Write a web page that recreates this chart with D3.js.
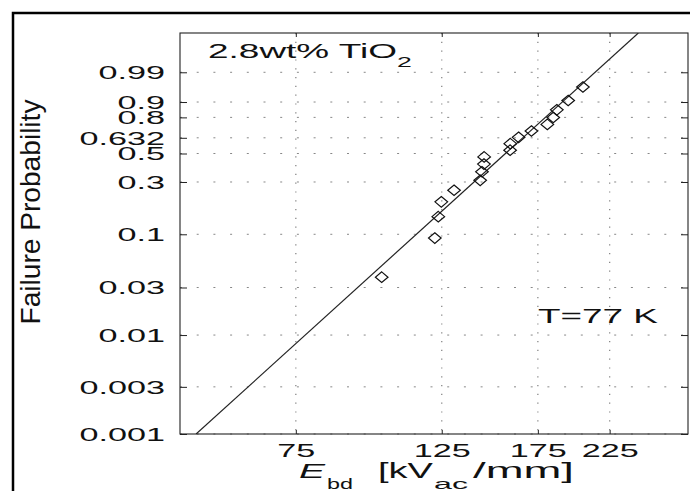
<!DOCTYPE html>
<html><head><meta charset="utf-8">
<script src="https://cdn.jsdelivr.net/npm/d3@7"></script>
<style>body{margin:0;background:#fff} svg{display:block} text{font-family:"Liberation Sans",Arial,Helvetica,sans-serif;fill:#111}</style>
</head><body><svg id="c" width="690" height="491"></svg>
<script>
// ---- data ----
const xTickValues = [75, 125, 175, 225];
const xTickLabels = ["75", "125", "175", "225"];
const yTickValues = [0.001, 0.003, 0.01, 0.03, 0.1, 0.3, 0.5, 0.632, 0.8, 0.9, 0.99];
const yTickLabels = ["0.001", "0.003", "0.01", "0.03", "0.1", "0.3", "0.5", "0.632", "0.8", "0.9", "0.99"];
const breakdownField = [101.3, 122.0, 123.5, 124.8, 130.5, 143.0, 143.9, 144.9, 145.0, 158.8, 158.9, 163.6, 171.1, 180.9, 184.7, 187.0, 194.6, 204.9];
const failureProb = [0.038, 0.092, 0.147, 0.201, 0.255, 0.310, 0.364, 0.418, 0.473, 0.527, 0.582, 0.636, 0.690, 0.745, 0.799, 0.853, 0.908, 0.962];
const fitScale = 166;   // Weibull scale (kV/mm)
const fitShape = 6.04;  // Weibull shape
const xDomain = [50, 296];
const yDomain = [0.001, 0.99999];

// ---- layout ----
const L = 180, R = 688, T = 33, B = 434, SX = 1.9;
const weib = F => Math.log(-Math.log(1 - F));
const x = d3.scaleLog().domain(xDomain).range([L, R]);
const yW = d3.scaleLinear().domain(yDomain.map(weib)).range([B, T]);
const y = F => yW(weib(F));

const svg = d3.select('#c');
svg.append('rect').attr('width', 690).attr('height', 491).attr('fill', '#fff');
svg.append('path').attr('d', 'M13,491 V13 H690').attr('fill', 'none').attr('stroke', '#000').attr('stroke-width', 2.5);

// grid
const grid = svg.append('g').attr('stroke', '#888').attr('fill', 'none');
grid.selectAll('line.h').data(yTickValues).join('line').attr('class', 'h')
  .attr('x1', L).attr('x2', R).attr('y1', d => y(d)).attr('y2', d => y(d))
  .attr('stroke-width', 1).attr('stroke-dasharray', '2,14.7');
grid.selectAll('line.v').data(xTickValues).join('line').attr('class', 'v')
  .attr('y1', T).attr('y2', B).attr('x1', d => x(d)).attr('x2', d => x(d))
  .attr('stroke-width', 1.3).attr('stroke-dasharray', '1.2,7.6');

// axes (ticks inward)
const styleAxis = g => { g.select('.domain').remove(); g.selectAll('.tick line').attr('stroke', '#222').attr('stroke-width', 1); g.attr('font-family', null).attr('font-size', null); };
const gl = svg.append('g').attr('transform', `translate(${L},0)`)
  .call(d3.axisLeft(yW).tickValues(yTickValues.map(weib)).tickFormat((d, i) => yTickLabels[i]).tickSizeInner(-7).tickSizeOuter(0).tickPadding(15))
  .call(styleAxis);
gl.selectAll('.tick text').attr('x', -15 / SX).attr('dy', '0.36em').attr('transform', `scale(${SX},1)`).attr('font-size', 18).attr('fill', '#111');
svg.append('g').attr('transform', `translate(${R},0)`)
  .call(d3.axisRight(yW).tickValues(yTickValues.map(weib)).tickFormat('').tickSizeInner(-7).tickSizeOuter(0)).call(styleAxis);
const gb = svg.append('g').attr('transform', `translate(0,${B})`)
  .call(d3.axisBottom(x).tickValues(xTickValues).tickFormat((d, i) => xTickLabels[i]).tickSizeInner(-4).tickSizeOuter(0))
  .call(styleAxis);
gb.selectAll('.tick text').attr('y', 23).attr('dy', null).attr('transform', `scale(${SX},1)`).attr('font-size', 18).attr('fill', '#111');
svg.append('g').attr('transform', `translate(0,${T})`)
  .call(d3.axisTop(x).tickValues(xTickValues).tickFormat('').tickSizeInner(-4).tickSizeOuter(0)).call(styleAxis);

// box
svg.append('rect').attr('x', L).attr('y', T).attr('width', R - L).attr('height', B - T)
  .attr('fill', 'none').attr('stroke', '#222').attr('stroke-width', 1.1);

// fit line
svg.append('clipPath').attr('id', 'clip').append('rect').attr('x', L).attr('y', T).attr('width', R - L).attr('height', B - T);
const wEnds = yDomain.map(weib);
const fitLine = d3.line().x(w => x(fitScale * Math.exp(w / fitShape))).y(w => yW(w));
svg.append('path').attr('d', fitLine(wEnds)).attr('clip-path', 'url(#clip)')
  .attr('fill', 'none').attr('stroke', '#222').attr('stroke-width', 1.2);

// points
const pts = breakdownField.map((e, i) => ({ e, f: failureProb[i] }));
svg.append('g').selectAll('path').data(pts).join('path')
  .attr('d', 'M0,-5.3 L6.3,0 L0,5.3 L-6.3,0 Z')
  .attr('transform', d => `translate(${x(d.e)},${y(d.f)})`)
  .attr('fill', 'none').attr('stroke', '#111').attr('stroke-width', 1.2);

// annotations (horizontally stretched text, optional target width in px)
const stretchText = (px, py, str, size, width, italic) => {
  const g = svg.append('g').attr('transform', `translate(${px},${py}) scale(${SX},1)`);
  const t = g.append('text').attr('font-size', size).text(str);
  if (width) t.attr('textLength', width / SX).attr('lengthAdjust', 'spacingAndGlyphs');
  if (italic) t.attr('font-style', 'italic');
  return t;
};
stretchText(208, 58, '2.8wt% TiO', 19.5, 189);
stretchText(397, 67, '2', 14);
stretchText(538, 323, 'T=77 K', 19.5, 120);

// x label
stretchText(299, 478, 'E', 21, 26, true);
stretchText(327, 489, 'bd', 14, 26);
stretchText(378, 478, '[kV', 21.5, 55);
stretchText(434, 489, 'ac', 14, 34);
stretchText(473, 478, '/mm]', 21.5, 101);

// y label
svg.append('text').attr('transform', 'translate(40,212) rotate(-90)')
  .attr('text-anchor', 'middle').attr('font-size', 28)
  .attr('textLength', 225).attr('lengthAdjust', 'spacingAndGlyphs')
  .text('Failure Probability');
</script></body></html>
